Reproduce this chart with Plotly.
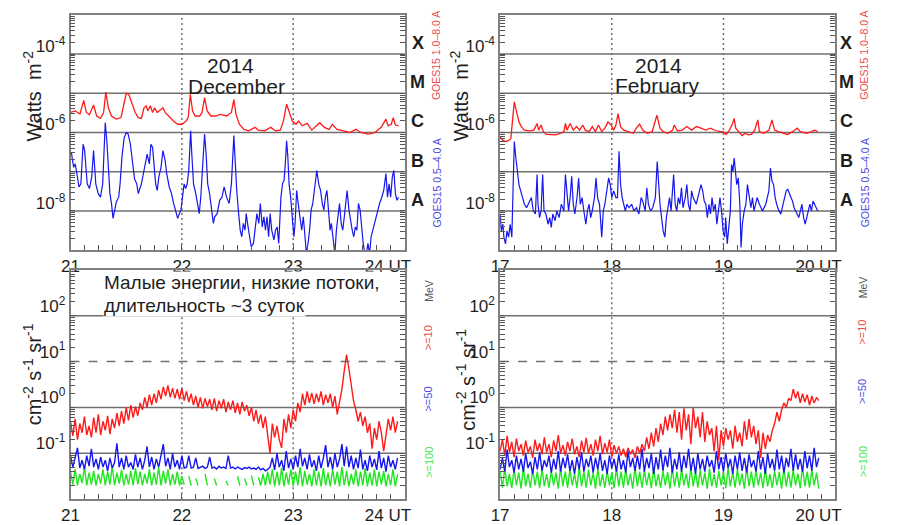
import numpy as np
import plotly.graph_objects as go

FONT = "Liberation Sans, Arial, Helvetica, sans-serif"
RED = "#ff1a1a"
BLUE = "#1616ee"
GREEN = "#22e622"
AXC = "#808080"
TICKC = "#555555"
GRIDC = "#707070"
TXT = "#1e1e1e"

# ---------------- GOES-15 X-ray, 21-24 Dec 2014 (days since 21 Dec 00 UT, log10 W m^-2)
dec_long_t = [0.000,0.042,0.085,0.119,0.142,0.170,0.207,0.235,0.269,0.297,0.317,0.340,0.368,0.411,0.453,0.482,0.501,0.524,0.552,0.581,
              0.609,0.637,0.660,0.680,0.694,0.717,0.737,0.756,0.779,0.830,0.850,0.878,0.921,0.963,1.000,1.034,1.057,1.076,1.096,1.119,
              1.161,1.181,1.204,1.227,1.261,1.303,1.346,1.402,1.445,1.467,1.487,1.516,1.558,1.601,1.657,1.686,1.742,1.799,1.841,1.884,
              1.912,1.941,1.963,1.992,2.025,2.048,2.082,2.125,2.167,2.210,2.238,2.280,2.323,2.351,2.394,2.450,2.507,2.564,2.606,2.677,
              2.734,2.790,2.833,2.853,2.881,2.898,2.918,2.946]
dec_long_log = [-5.49,-5.45,-5.53,-5.18,-5.49,-5.55,-5.30,-5.58,-5.64,-5.49,-4.97,-5.37,-5.58,-5.66,-5.62,-5.28,-5.00,-5.03,-5.24,-5.49,
                -5.62,-5.64,-5.37,-5.32,-5.45,-5.32,-5.49,-5.37,-5.49,-5.37,-5.49,-5.58,-5.70,-5.79,-5.79,-5.72,-5.62,-5.03,-5.45,-5.58,
                -5.58,-5.49,-5.11,-5.45,-5.58,-5.58,-5.54,-5.58,-5.49,-5.16,-5.54,-5.79,-5.92,-5.96,-5.87,-5.94,-5.96,-5.87,-5.96,-5.94,
                -5.71,-5.28,-5.45,-5.71,-5.79,-5.71,-5.83,-5.77,-5.94,-5.81,-5.75,-5.87,-5.92,-5.79,-5.92,-5.96,-6.00,-5.92,-6.00,-6.04,
                -6.00,-5.87,-5.66,-5.83,-5.79,-5.62,-5.81,-5.83]
dec_short_t = [0.000,0.008,0.028,0.042,0.057,0.076,0.093,0.113,0.127,0.150,0.170,0.190,0.207,0.227,0.249,0.269,0.289,0.297,0.312,0.326,
               0.340,0.354,0.368,0.382,0.397,0.411,0.433,0.445,0.462,0.482,0.501,0.518,0.538,0.558,0.575,0.595,0.609,0.623,0.637,0.660,
               0.674,0.688,0.708,0.722,0.737,0.751,0.765,0.779,0.793,0.813,0.830,0.850,0.864,0.887,0.907,0.926,0.943,0.963,0.977,0.992,
               1.006,1.020,1.034,1.048,1.062,1.079,1.091,1.105,1.125,1.142,1.156,1.170,1.187,1.204,1.218,1.232,1.249,1.266,1.283,1.295,
               1.317,1.340,1.360,1.380,1.402,1.425,1.445,1.467,1.476,1.493,1.510,1.524,1.538,1.552,1.567,1.578,1.595,1.609,1.623,1.643,
               1.657,1.674,1.691,1.705,1.722,1.737,1.751,1.765,1.779,1.793,1.807,1.827,1.841,1.856,1.870,1.890,1.904,1.918,1.929,1.941,
               1.952,1.963,1.977,1.992,2.006,2.017,2.031,2.045,2.059,2.076,2.091,2.105,2.119,2.133,2.147,2.161,2.176,2.190,2.201,2.212,
               2.229,2.246,2.261,2.275,2.289,2.303,2.317,2.331,2.343,2.360,2.374,2.388,2.402,2.416,2.431,2.445,2.459,2.473,2.484,2.501,
               2.516,2.530,2.544,2.558,2.572,2.586,2.601,2.615,2.629,2.643,2.657,2.671,2.686,2.700,2.714,2.728,2.742,2.756,2.776,2.796,
               2.813,2.833,2.847,2.861,2.875,2.890,2.904,2.918,2.932,2.946]
dec_short_log = [-6.55,-6.51,-6.89,-6.80,-7.05,-7.39,-7.31,-6.30,-6.46,-7.31,-7.43,-7.14,-6.46,-7.31,-7.56,-7.65,-7.31,-6.80,-5.75,-6.21,
                 -6.89,-7.56,-7.81,-8.19,-7.98,-7.77,-7.65,-7.31,-6.63,-6.13,-6.00,-6.04,-6.30,-6.80,-7.18,-7.31,-7.56,-7.43,-7.31,-6.97,
                 -6.76,-6.55,-6.80,-6.30,-6.38,-6.80,-7.31,-7.48,-7.14,-6.89,-6.46,-6.72,-7.05,-7.39,-7.56,-7.81,-7.98,-8.19,-8.07,-7.98,
                 -7.65,-7.31,-7.43,-7.31,-6.97,-5.96,-6.63,-7.31,-7.56,-7.81,-8.07,-7.65,-6.97,-6.04,-6.55,-7.31,-7.56,-7.98,-8.32,-8.15,
                 -8.07,-7.73,-7.65,-7.39,-7.65,-7.81,-7.31,-6.08,-6.63,-7.48,-8.07,-8.49,-8.66,-8.32,-8.49,-8.07,-8.41,-8.66,-8.91,-8.83,
                 -8.49,-8.07,-8.32,-7.81,-8.41,-8.15,-8.49,-8.15,-8.66,-8.07,-8.49,-8.74,-8.49,-8.41,-8.83,-7.65,-7.31,-7.22,-6.80,-6.21,
                 -6.63,-7.31,-7.65,-8.15,-8.66,-8.32,-7.48,-7.81,-8.07,-8.49,-8.15,-8.66,-9.10,-8.83,-8.49,-7.98,-7.81,-7.48,-7.14,-6.97,
                 -7.31,-7.48,-7.81,-7.98,-7.65,-7.48,-7.98,-8.49,-8.32,-8.83,-9.10,-8.49,-8.07,-7.81,-8.32,-8.49,-8.15,-7.65,-7.48,-7.98,
                 -8.32,-8.49,-8.66,-8.41,-8.49,-7.81,-7.98,-8.49,-8.83,-9.10,-9.10,-8.83,-9.10,-8.66,-8.49,-8.32,-8.15,-7.98,-7.81,-7.65,
                 -7.48,-7.05,-7.65,-7.31,-7.65,-7.14,-6.97,-7.56,-7.73,-7.65]

# ---------------- GOES-15 X-ray, 17-20 Feb 2014 (days since 17 Feb 00 UT)
feb_long_t = [0.000,0.020,0.048,0.076,0.096,0.113,0.127,0.147,0.169,0.189,0.218,0.260,0.302,0.331,0.345,0.367,0.387,0.415,0.458,0.500,
              0.542,0.571,0.585,0.599,0.627,0.655,0.684,0.712,0.740,0.763,0.797,0.825,0.853,0.881,0.910,0.938,0.966,0.994,1.017,1.037,
              1.056,1.079,1.107,1.150,1.192,1.220,1.249,1.277,1.319,1.362,1.404,1.432,1.460,1.503,1.545,1.559,1.588,1.630,1.672,1.715,
              1.757,1.799,1.842,1.884,1.927,1.969,1.997,2.025,2.054,2.082,2.096,2.110,2.138,2.167,2.195,2.223,2.251,2.280,2.308,2.322,
              2.364,2.407,2.435,2.458,2.492,2.534,2.576,2.619,2.661,2.689,2.746,2.788,2.816,2.845]
feb_long_log = [-6.11,-6.19,-6.23,-6.21,-6.15,-5.64,-5.22,-5.47,-5.73,-5.85,-5.94,-5.96,-5.94,-5.77,-5.94,-5.81,-5.98,-6.05,-6.05,-6.06,
                -6.02,-5.98,-5.77,-5.94,-5.77,-5.94,-5.85,-5.94,-5.81,-5.94,-5.98,-5.85,-5.98,-5.81,-5.98,-5.89,-5.73,-5.81,-5.94,-5.81,
                -5.52,-5.85,-5.94,-5.98,-6.02,-5.89,-5.79,-5.94,-6.02,-5.98,-5.56,-5.89,-5.98,-6.02,-5.94,-5.81,-5.96,-5.94,-5.85,-5.94,
                -5.85,-5.89,-5.94,-5.89,-5.95,-5.98,-5.98,-6.05,-5.94,-5.77,-5.64,-5.89,-5.98,-6.08,-6.02,-6.06,-6.05,-5.94,-5.68,-5.98,
                -6.02,-5.94,-5.68,-5.94,-5.98,-6.02,-6.05,-5.98,-5.89,-5.98,-6.02,-5.98,-5.94,-5.98]
feb_short_t = [0.000,0.011,0.025,0.034,0.048,0.062,0.076,0.090,0.105,0.113,0.127,0.141,0.155,0.169,0.184,0.198,0.218,0.237,0.260,0.280,
               0.297,0.316,0.331,0.339,0.353,0.367,0.381,0.393,0.410,0.429,0.444,0.458,0.472,0.492,0.508,0.528,0.548,0.571,0.585,0.599,
               0.613,0.627,0.641,0.655,0.669,0.689,0.703,0.718,0.734,0.754,0.768,0.782,0.797,0.811,0.825,0.845,0.859,0.873,0.890,0.910,
               0.924,0.938,0.958,0.972,0.986,1.000,1.017,1.037,1.051,1.065,1.079,1.093,1.107,1.121,1.136,1.155,1.178,1.198,1.220,1.243,
               1.263,1.277,1.299,1.314,1.328,1.347,1.367,1.390,1.407,1.418,1.432,1.446,1.460,1.475,1.489,1.503,1.517,1.531,1.554,1.568,
               1.582,1.596,1.610,1.624,1.638,1.658,1.672,1.686,1.701,1.715,1.729,1.757,1.785,1.799,1.814,1.828,1.842,1.856,1.870,1.884,
               1.898,1.912,1.927,1.941,1.955,1.969,1.983,1.997,2.011,2.020,2.034,2.048,2.062,2.073,2.085,2.096,2.107,2.119,2.133,2.147,
               2.158,2.169,2.186,2.201,2.215,2.232,2.246,2.260,2.274,2.288,2.302,2.322,2.350,2.379,2.407,2.421,2.435,2.449,2.463,2.477,
               2.497,2.514,2.534,2.548,2.562,2.576,2.590,2.605,2.619,2.633,2.647,2.661,2.675,2.689,2.703,2.718,2.732,2.746,2.760,2.774,
               2.788,2.802,2.816,2.831,2.845]
feb_short_log = [-8.08,-8.51,-8.34,-8.67,-8.84,-8.51,-8.67,-8.34,-8.67,-7.66,-6.23,-6.65,-6.99,-7.33,-7.49,-7.66,-7.83,-7.92,-7.79,-7.66,
                 -8.00,-8.08,-7.07,-7.83,-8.17,-8.00,-7.07,-8.00,-8.08,-8.34,-8.17,-8.42,-8.08,-8.25,-8.00,-8.17,-7.83,-8.00,-7.07,-7.66,
                 -8.00,-7.66,-7.12,-7.83,-8.08,-7.66,-7.16,-7.83,-7.66,-8.08,-8.34,-8.00,-7.83,-8.17,-8.00,-7.66,-7.16,-7.66,-7.83,-8.67,
                 -8.00,-7.83,-7.49,-7.16,-7.33,-7.66,-7.49,-7.66,-7.66,-6.48,-7.33,-7.66,-7.83,-8.00,-7.83,-7.92,-7.83,-8.00,-7.92,-8.08,
                 -7.66,-7.75,-8.00,-7.41,-7.83,-8.00,-7.92,-7.66,-6.74,-7.33,-7.83,-8.17,-8.51,-8.67,-8.17,-7.92,-7.66,-8.00,-7.07,-7.83,
                 -8.00,-7.66,-7.83,-7.41,-7.92,-7.66,-7.33,-7.83,-8.00,-7.49,-7.66,-7.83,-7.49,-7.33,-7.49,-7.75,-7.83,-8.17,-7.83,-8.08,
                 -7.66,-8.00,-7.83,-8.34,-8.00,-7.66,-8.00,-8.51,-8.67,-8.17,-8.84,-8.34,-8.00,-6.82,-6.99,-6.65,-6.99,-7.33,-7.16,-7.83,
                 -8.93,-8.34,-8.00,-7.83,-7.33,-7.66,-7.92,-7.66,-8.00,-7.83,-7.66,-7.83,-8.00,-7.83,-7.49,-6.91,-7.24,-7.33,-7.66,-7.83,
                 -8.00,-8.08,-7.83,-7.66,-7.49,-7.45,-7.58,-7.66,-7.75,-7.92,-8.00,-8.08,-8.17,-8.00,-7.83,-8.17,-8.34,-8.17,-8.00,-7.83,
                 -8.00,-7.75,-7.83,-7.92,-8.00]

# ---------------- GOES-15 integral protons, 30-min samples (log10 pfu)
dec_p10 = [-0.30,-0.62,-0.25,-0.70,-0.35,-0.55,-0.20,-0.60,-0.40,-0.65,
           -0.22,-0.55,-0.15,-0.60,-0.30,-0.50,-0.18,-0.58,-0.25,-0.45,
           -0.12,-0.40,-0.08,-0.35,0.00,-0.28,0.05,-0.22,0.02,-0.18,
           0.10,-0.05,0.22,0.00,0.28,0.05,0.30,0.10,0.38,0.18,
           0.45,0.25,0.48,0.22,0.42,0.20,0.40,0.18,0.42,0.15,
           0.35,0.12,0.30,0.05,0.25,0.00,0.22,-0.02,0.20,0.02,
           0.18,-0.05,0.20,-0.08,0.15,-0.02,0.18,-0.10,0.12,-0.05,
           0.15,-0.12,0.10,-0.15,0.12,-0.08,0.05,-0.18,0.00,-0.30,
           -0.05,-0.35,-0.15,-0.45,-0.20,-0.55,-1.00,-0.35,-0.65,-0.40,
           -0.70,-0.88,-0.25,-0.55,-0.15,-0.45,-0.05,-0.30,0.10,-0.10,
           0.30,0.05,0.35,0.10,0.32,0.08,0.30,0.12,0.35,0.05,
           0.28,0.10,0.30,0.00,0.25,-0.15,0.15,0.40,0.80,1.15,
           0.85,0.45,0.15,-0.05,-0.30,-0.10,-0.40,-0.20,-0.55,-0.35,
           -0.90,-0.45,-0.70,-0.30,-0.55,-0.95,-0.60,-0.25,-0.50,-0.20,
           -0.55,-0.30]
dec_p50 = [-1.05,-1.30,-1.10,-0.88,-1.32,-1.15,-1.35,-1.05,-1.28,-0.90,
           -1.30,-1.12,-1.35,-1.08,-1.30,-1.15,-1.38,-1.10,-1.32,-1.20,
           -0.78,-1.30,-1.10,-1.35,-1.05,-1.30,-1.20,-1.35,-1.02,-1.30,
           -1.10,-1.35,-1.15,-0.85,-1.30,-1.08,-1.35,-1.12,-1.30,-1.05,
           -0.80,-1.28,-1.10,-1.35,-1.00,-1.30,-1.15,-1.35,-1.05,-1.32,
           -1.30,-1.05,-1.32,-1.30,-1.10,-1.33,-1.30,-1.28,-1.33,-1.30,
           -1.08,-1.32,-1.30,-1.34,-1.28,-1.32,-1.30,-1.33,-1.05,-1.32,
           -1.30,-1.34,-1.30,-1.32,-1.35,-1.31,-1.33,-1.30,-1.34,-1.32,
           -1.35,-1.30,-1.36,-1.33,-1.38,-1.35,-1.30,-1.10,-1.36,-1.00,
           -1.30,-1.15,-1.38,-0.95,-1.32,-1.12,-1.35,-1.05,-1.30,-0.90,
           -1.28,-1.10,-1.35,-1.02,-1.30,-1.15,-1.38,-1.05,-1.32,-1.10,
           -0.82,-1.30,-1.08,-1.35,-1.00,-1.30,-1.12,-0.80,-1.28,-0.85,
           -1.30,-1.05,-1.35,-1.10,-1.32,-0.92,-1.35,-1.15,-1.38,-1.05,
           -1.30,-1.12,-1.36,-0.95,-1.32,-1.10,-1.40,-1.05,-1.30,-1.15,
           -1.35,-1.10]
dec_p100 = [-1.40,-1.68,-1.35,-1.70,-1.45,-1.65,-1.30,-1.70,-1.42,-1.68,
            -1.38,-1.70,-1.45,-1.66,-1.35,-1.70,-1.40,-1.68,-1.28,-1.70,
            -1.42,-1.66,-1.36,-1.70,-1.45,-1.68,-1.38,-1.70,-1.32,-1.67,
            -1.40,-1.70,-1.45,-1.66,-1.35,-1.70,-1.42,-1.68,-1.30,-1.70,
            -1.38,-1.66,-1.35,-1.70,-1.45,-1.68,-1.40,-1.70,-1.50,-1.68,
            None,-1.50,-1.70,None,-1.55,-1.70,None,None,-1.45,-1.70,
            None,None,-1.55,-1.70,None,None,None,-1.60,-1.70,None,
            None,None,-1.50,-1.70,None,-1.55,-1.70,None,-1.48,-1.70,
            None,-1.52,-1.70,-1.45,-1.70,-1.40,-1.68,-1.35,-1.72,-1.40,
            -1.70,-1.32,-1.72,-1.42,-1.68,-1.35,-1.72,-1.40,-1.70,-1.30,
            -1.72,-1.38,-1.68,-1.45,-1.72,-1.35,-1.70,-1.40,-1.72,-1.32,
            -1.70,-1.42,-1.72,-1.35,-1.68,-1.40,-1.72,-1.30,-1.70,-1.38,
            -1.72,-1.45,-1.68,-1.35,-1.72,-1.40,-1.70,-1.32,-1.72,-1.42,
            -1.70,-1.35,-1.72,-1.40,-1.68,-1.38,-1.72,-1.45,-1.70,-1.35,
            -1.72,-1.45]
feb_p10 = [-0.95,-0.70,-1.05,-0.62,-0.98,-0.75,-1.08,-0.68,-0.95,-0.80,
           -1.05,-0.72,-0.98,-0.85,-1.10,-0.70,-0.95,-0.78,-1.02,-0.65,
           -0.98,-0.80,-1.08,-0.72,-0.95,-0.60,-1.00,-0.82,-1.05,-0.75,
           -0.95,-0.68,-1.02,-0.85,-1.08,-0.72,-0.98,-0.66,-1.00,-0.80,
           -1.05,-0.70,-0.95,-0.62,-1.02,-0.78,-0.98,-0.70,-1.08,-0.82,
           -1.00,-0.85,-1.05,-0.90,-1.08,-0.88,-1.02,-0.92,-1.10,-0.85,
           -1.00,-0.80,-0.95,-0.65,-0.90,-0.55,-0.85,-0.45,-0.75,-0.35,
           -0.60,-0.20,-0.50,-0.15,-0.45,-0.05,-0.55,-0.10,-0.70,-0.02,
           -0.50,-0.15,-0.80,0.00,-0.45,-0.20,-0.65,-0.10,-0.75,-0.30,
           -0.60,-0.45,-0.95,-0.40,-1.15,-0.50,-0.85,-0.45,-0.70,-0.50,
           -0.90,-0.40,-0.75,-0.55,-0.85,-0.30,-0.70,-0.25,-0.65,-0.40,
           -0.80,-0.50,-1.10,-0.55,-0.90,-0.60,-0.75,-0.50,-0.35,-0.10,
           -0.30,-0.05,0.10,0.00,0.20,0.15,0.40,0.20,0.35,0.10,
           0.30,0.12,0.28,0.05,0.25,0.10,0.22,0.15]
feb_p50 = [-1.35,-1.10,-1.40,-0.92,-1.30,-1.15,-1.42,-1.05,-1.35,-1.12,
           -1.40,-1.00,-1.32,-1.18,-1.45,-1.08,-1.35,-0.98,-1.38,-1.15,
           -1.30,-1.05,-1.42,-1.12,-1.35,-0.95,-1.40,-1.10,-1.32,-1.02,
           -1.38,-1.15,-1.45,-1.08,-1.35,-0.97,-1.40,-1.12,-1.30,-1.05,
           -1.42,-1.10,-1.35,-1.00,-1.38,-1.15,-1.45,-1.05,-1.32,-1.12,
           -1.40,-1.02,-1.35,-1.15,-1.42,-0.95,-1.30,-1.10,-1.38,-1.05,
           -1.35,-0.90,-1.40,-1.10,-1.32,-1.00,-1.45,-1.08,-1.35,-0.92,
           -1.38,-1.05,-1.30,-0.88,-1.42,-1.12,-1.35,-0.98,-1.40,-1.05,
           -1.32,-0.90,-1.38,-1.10,-1.45,-1.00,-1.35,-1.12,-1.40,-1.05,
           -1.30,-1.15,-1.42,-0.95,-1.35,-1.08,-1.40,-1.00,-1.32,-1.12,
           -1.45,-1.05,-1.35,-0.98,-1.38,-1.10,-1.42,-1.02,-1.30,-1.15,
           -1.40,-0.95,-1.35,-1.08,-1.45,-1.00,-1.32,-1.12,-1.38,-0.92,
           -1.35,-1.05,-1.42,-1.10,-1.30,-0.90,-1.38,-1.02,-1.35,-1.12,
           -1.40,-0.95,-1.32,-1.05,-1.38,-0.88,-1.30,-1.10]
feb_p100 = [-1.40,-1.75,-1.32,-1.72,-1.45,-1.76,-1.35,-1.70,-1.42,-1.77,
            -1.30,-1.72,-1.44,-1.75,-1.36,-1.70,-1.40,-1.76,-1.33,-1.72,
            -1.45,-1.75,-1.38,-1.70,-1.42,-1.77,-1.32,-1.72,-1.40,-1.75,
            -1.35,-1.70,-1.44,-1.76,-1.30,-1.72,-1.40,-1.75,-1.36,-1.70,
            -1.42,-1.77,-1.33,-1.72,-1.45,-1.75,-1.38,-1.70,-1.41,-1.76,
            -1.32,-1.72,-1.40,-1.75,-1.35,-1.70,-1.44,-1.77,-1.30,-1.72,
            -1.40,-1.75,-1.36,-1.70,-1.42,-1.76,-1.33,-1.72,-1.45,-1.75,
            -1.38,-1.70,-1.41,-1.77,-1.32,-1.72,-1.40,-1.75,-1.35,-1.70,
            -1.44,-1.76,-1.30,-1.72,-1.40,-1.75,-1.36,-1.70,-1.42,-1.77,
            -1.33,-1.72,-1.45,-1.75,-1.38,-1.70,-1.41,-1.76,-1.32,-1.72,
            -1.40,-1.75,-1.35,-1.70,-1.44,-1.77,-1.30,-1.72,-1.40,-1.75,
            -1.36,-1.70,-1.42,-1.76,-1.33,-1.72,-1.45,-1.75,-1.38,-1.70,
            -1.41,-1.77,-1.32,-1.72,-1.40,-1.75,-1.35,-1.70,-1.44,-1.76,
            -1.30,-1.72,-1.40,-1.75,-1.36,-1.70,-1.42,-1.77]
proton_step_days = 1 / 48

# ---------------- axis labels / levels
dec_start, feb_start = 21, 17
dec_day_labels = ["21", "22", "23", "24 UT" + "\u00a0" * 7]
feb_day_labels = ["17", "18", "19", "20 UT" + "\u00a0" * 7]
xray_levels = [1e-8, 1e-7, 1e-6, 1e-5, 1e-4]
xray_labelled_decades = {-8: "10<sup>-8</sup>", -6: "10<sup>-6</sup>", -4: "10<sup>-4</sup>"}
flare_classes = ["A", "B", "C", "M", "X"]
proton_levels = [0.1, 1, 10, 100]
proton_level_dash = ["solid", "solid", "dash", "solid"]
proton_labelled_decades = {-1: "10<sup>-1</sup>", 0: "10<sup>0</sup>", 1: "10<sup>1</sup>", 2: "10<sup>2</sup>"}
proton_channels = [">=10", ">=50", ">=100"]


def lin(v):
    return [None if a is None else 10 ** a for a in v]


fig = go.Figure()

def add_line(x, y, xa, ya, color, width):
    fig.add_trace(go.Scatter(x=x, y=y, xaxis=xa, yaxis=ya, mode="lines",
                             line=dict(color=color, width=width), connectgaps=False,
                             hoverinfo="skip", showlegend=False))

# X-ray panels
add_line([dec_start + t for t in dec_short_t], lin(dec_short_log), "x", "y", BLUE, 1.2)
add_line([dec_start + t for t in dec_long_t], lin(dec_long_log), "x", "y", RED, 1.3)
add_line([feb_start + t for t in feb_short_t], lin(feb_short_log), "x2", "y2", BLUE, 1.2)
add_line([feb_start + t for t in feb_long_t], lin(feb_long_log), "x2", "y2", RED, 1.3)

# proton panels
for start, series, xa, ya in [(dec_start, [dec_p100, dec_p50, dec_p10], "x3", "y3"),
                              (feb_start, [feb_p100, feb_p50, feb_p10], "x4", "y4")]:
    for s, col in zip(series, [GREEN, BLUE, RED]):
        tt = start + np.arange(len(s)) * proton_step_days
        add_line(tt, lin(s), xa, ya, col, 1.4)

TICKFONT = dict(family=FONT, size=17, color=TXT)


def xaxis(dom, start, labels, anchor):
    # tick every 3 hours, label only at day boundaries
    tv = [start + k / 8 for k in range(25)]
    tt = [labels[k // 8] if k % 8 == 0 else "" for k in range(25)]
    return dict(domain=dom, range=[start, start + 3], anchor=anchor, type="linear",
                tickmode="array", tickvals=tv, ticktext=tt,
                ticks="inside", ticklen=5, tickwidth=1, tickcolor=TICKC,
                showline=True, linecolor=AXC, linewidth=1.5, mirror=True, showgrid=False,
                tickfont=TICKFONT, zeroline=False)


def yaxis(dom, anchor, dec_lo, dec_hi, labelled, shift):
    # tick at 1..9 x 10^d, label only the chosen decades
    tv, tt = [], []
    for d in range(dec_lo, dec_hi):
        for k in range(1, 10):
            tv.append(k * 10.0 ** d)
            tt.append(labelled.get(d, "") if k == 1 else "")
    return dict(domain=dom, type="log", range=[dec_lo, dec_hi], anchor=anchor,
                tickmode="array", tickvals=tv, ticktext=tt,
                ticks="inside", ticklen=5, tickwidth=1, tickcolor=TICKC,
                showline=True, linecolor=AXC, linewidth=1.5, mirror="allticks", showgrid=False,
                ticklabelshift=shift, tickfont=TICKFONT, zeroline=False)


W, H = 912, 525
def px(xp):
    return xp / W
def py(yp):
    return 1 - yp / H

xl = [px(65), px(418)]
xr = [px(519), px(873)]
yt = [py(253), py(15)]
yb = [py(505), py(273)]

fig.update_layout(
    width=W, height=H, margin=dict(l=0, r=0, t=0, b=0), autosize=False,
    paper_bgcolor="white", plot_bgcolor="white", showlegend=False, hovermode=False,
    font=dict(family=FONT, color=TXT),
    xaxis=xaxis(xl, dec_start, dec_day_labels, "y"),
    yaxis=yaxis(yt, "x", -9, -3, xray_labelled_decades, -8),
    xaxis2=xaxis(xr, feb_start, feb_day_labels, "y2"),
    yaxis2=yaxis(yt, "x2", -9, -3, xray_labelled_decades, -8),
    xaxis3=xaxis(xl, dec_start, dec_day_labels, "y3"),
    yaxis3=yaxis(yb, "x3", -2, 3, proton_labelled_decades, -10),
    xaxis4=xaxis(xr, feb_start, feb_day_labels, "y4"),
    yaxis4=yaxis(yb, "x4", -2, 3, proton_labelled_decades, -10),
)

# reference levels and day separators
shapes = []
for xa, ya in [("x", "y"), ("x2", "y2")]:
    for lev in xray_levels:
        shapes.append(dict(type="line", xref=f"{xa} domain", x0=0, x1=1, yref=ya, y0=lev, y1=lev,
                           line=dict(color=GRIDC, width=1.5), layer="below"))
for xa, ya in [("x3", "y3"), ("x4", "y4")]:
    for lev, dash in zip(proton_levels, proton_level_dash):
        shapes.append(dict(type="line", xref=f"{xa} domain", x0=0, x1=1, yref=ya, y0=lev, y1=lev,
                           line=dict(color=GRIDC, width=1.5, dash=dash), layer="below"))
for xa, ya, start in [("x", "y", dec_start), ("x2", "y2", feb_start), ("x3", "y3", dec_start), ("x4", "y4", feb_start)]:
    for day in (start + 1, start + 2):
        shapes.append(dict(type="line", xref=xa, x0=day, x1=day, yref=f"{ya} domain", y0=0, y1=1,
                           line=dict(color=GRIDC, width=1.5, dash="2px,3px"), layer="below"))
fig.update_layout(shapes=shapes)

ann = []
def text(x, y, s, size, color=TXT, angle=0, bold=False, xanchor="center", xref="paper", yref="paper", bg=None):
    d = dict(x=x, y=y, xref=xref, yref=yref, text=f"<b>{s}</b>" if bold else s,
             showarrow=False, textangle=angle, xanchor=xanchor, yanchor="middle",
             font=dict(family=FONT, size=size, color=color), borderpad=0)
    if bg:
        d["bgcolor"] = bg
    ann.append(d)

# flare class letters (placed within each class decade)
for ya, xpos in [("y", px(432)), ("y2", px(885))]:
    for cls, lev in zip(flare_classes, xray_levels):
        text(xpos, np.log10(lev) + 0.28, cls, 18, bold=True, yref=ya)

# channel labels
for xpos in [px(452), px(904)]:
    text(xpos, py(56), "GOES15 1.0\u20138.0 A", 10.5, color="#f04a4a", angle=-90)
    text(xpos, py(185), "GOES15 0.5\u20134.0 A", 10.5, color="#4a4ae6", angle=-90)
for xpos, ys in [(px(443), [294, 342, 404, 468]), (px(902), [291, 336, 396, 467])]:
    text(xpos, py(ys[0]), "MeV", 10.5, color="#555555", angle=-90)
    for lab, yy, col in zip(proton_channels, ys[1:], ["#f04a4a", "#4a4ae6", "#4ae64a"]):
        text(xpos, py(yy), lab, 11, color=col, angle=-90)

# axis titles
text(px(25), py(97), "Watts  m<sup>-2</sup>", 20, angle=-90)
text(px(476), py(97), "Watts  m<sup>-2</sup>", 20, angle=-90)
text(px(25), py(379), "cm<sup>-2</sup> s<sup>-1</sup> sr<sup>-1</sup>", 20, angle=-90)
text(px(483), py(384), "cm<sup>-2</sup> s<sup>-1</sup> sr<sup>-1</sup>", 20, angle=-90)

# panel captions
text(px(234), py(66), "2014", 21)
text(px(240), py(87), "December", 21)
text(px(686), py(66), "2014", 21)
text(px(685), py(86), "February", 21)
text(px(99), py(286), "Малые энергии, низкие потоки,", 19, xanchor="left", bg="white")
text(px(99), py(309), "длительность ~3 суток", 19, xanchor="left", bg="white")

fig.update_layout(annotations=ann)
fig.write_html("out.html")
